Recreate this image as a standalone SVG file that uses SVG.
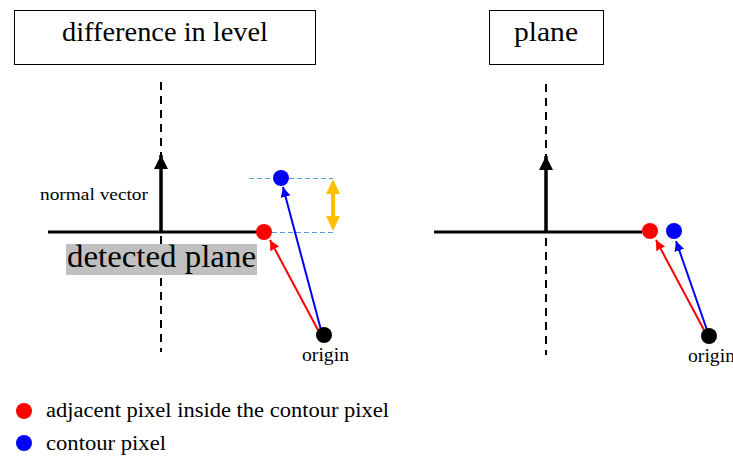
<svg xmlns="http://www.w3.org/2000/svg" width="733" height="457" viewBox="0 0 733 457">
<defs>
<style>
text{font-family:"Liberation Serif","DejaVu Serif",serif;fill:#000}
.box{fill:#fff;stroke:#000;stroke-width:1}
.axis{stroke:#000;stroke-width:3;fill:none}
.dash{stroke:#000;stroke-width:2;stroke-dasharray:8,6;fill:none}
.guide{stroke:#5b9bd5;stroke-width:1;stroke-dasharray:5,3;fill:none}
.red{stroke:#ff0000;stroke-width:2;fill:none}
.blue{stroke:#0000ff;stroke-width:2;fill:none}
</style>
<marker id="ahK" markerWidth="4" markerHeight="4.6" refX="4" refY="2" orient="auto" markerUnits="strokeWidth" viewBox="0 0 4 4"><path d="M0,0 L4,2 L0,4 Z" fill="#000"/></marker>
<marker id="ahR" markerWidth="5" markerHeight="5" refX="5" refY="2.5" orient="auto" markerUnits="strokeWidth" viewBox="0 0 5 5"><path d="M0,0 L5,2.5 L0,5 Z" fill="#ff0000"/></marker>
<marker id="ahB" markerWidth="5" markerHeight="5" refX="5" refY="2.5" orient="auto" markerUnits="strokeWidth" viewBox="0 0 5 5"><path d="M0,0 L5,2.5 L0,5 Z" fill="#0000ff"/></marker>
</defs>

<g id="title-left">
<rect class="box" x="14.5" y="10.5" width="301" height="54"/>
<text x="62" y="41" font-size="28" textLength="206" lengthAdjust="spacingAndGlyphs">difference in level</text>
</g>
<g id="title-right">
<rect class="box" x="489.5" y="10.5" width="114" height="54"/>
<text x="514" y="41" font-size="28" textLength="64" lengthAdjust="spacingAndGlyphs">plane</text>
</g>

<g id="left-diagram">
<line class="dash" x1="161" y1="82" x2="161" y2="352"/>
<line class="axis" x1="48" y1="232" x2="262" y2="232"/>
<rect x="66" y="244" width="191" height="31" fill="#c0c0c0"/>
<text x="67" y="267" font-size="31" textLength="189" lengthAdjust="spacingAndGlyphs">detected plane</text>
<text x="40" y="200" font-size="17" textLength="108" lengthAdjust="spacingAndGlyphs">normal vector</text>
<line class="guide" x1="249" y1="178.5" x2="333" y2="178.5"/>
<line class="guide" x1="272" y1="232.5" x2="333" y2="232.5"/>
</g>

<g id="connectors">
<line x1="161" y1="232" x2="161" y2="155" stroke="#000" stroke-width="3.5" marker-end="url(#ahK)"/>
<line class="red" x1="318" y1="330" x2="270" y2="240" marker-end="url(#ahR)"/>
<line class="blue" x1="321" y1="330" x2="283" y2="187" marker-end="url(#ahB)"/>
<line x1="546" y1="232" x2="546" y2="156" stroke="#000" stroke-width="3.5" marker-end="url(#ahK)"/>
<line class="red" x1="704" y1="330" x2="656" y2="240" marker-end="url(#ahR)"/>
<line class="blue" x1="707" y1="330" x2="676" y2="241" marker-end="url(#ahB)"/>
<g id="level-arrow" fill="#ffc000">
<rect x="331" y="190" width="4" height="30"/>
<path d="M326,194 L333,179 L340,194 Z"/>
<path d="M326,216 L333,231 L340,216 Z"/>
</g>
</g>

<g id="left-points">
<circle cx="264" cy="232" r="8" fill="#ff0000"/>
<circle cx="281" cy="178" r="8" fill="#0000ff"/>
<circle cx="324" cy="335" r="8" fill="#000"/>
<text x="302" y="361" font-size="18" textLength="47" lengthAdjust="spacingAndGlyphs">origin</text>
</g>

<g id="right-diagram">
<line class="dash" x1="546" y1="84" x2="546" y2="355"/>
<line class="axis" x1="434" y1="232" x2="642" y2="232"/>
</g>
<g id="right-points">
<circle cx="650" cy="231" r="8" fill="#ff0000"/>
<circle cx="674" cy="231" r="8" fill="#0000ff"/>
<circle cx="709" cy="336" r="8" fill="#000"/>
<text x="688" y="362" font-size="18" textLength="47" lengthAdjust="spacingAndGlyphs">origin</text>
</g>

<g id="legend">
<circle cx="24" cy="411" r="8" fill="#ff0000"/>
<text x="46" y="417" font-size="20" textLength="343" lengthAdjust="spacingAndGlyphs">adjacent pixel inside the contour pixel</text>
<circle cx="24" cy="443" r="8" fill="#0000ff"/>
<text x="46" y="450" font-size="20" textLength="120" lengthAdjust="spacingAndGlyphs">contour pixel</text>
</g>
</svg>
